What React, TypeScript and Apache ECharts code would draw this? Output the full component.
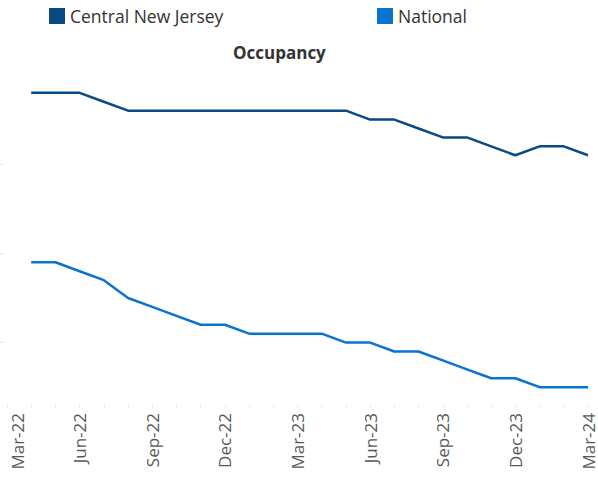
import React, { useEffect, useRef } from "react";
import * as echarts from "echarts";

const months: string[] = [
  "Mar-22", "Apr-22", "May-22", "Jun-22", "Jul-22", "Aug-22", "Sep-22", "Oct-22", "Nov-22", "Dec-22",
  "Jan-23", "Feb-23", "Mar-23", "Apr-23", "May-23", "Jun-23", "Jul-23", "Aug-23", "Sep-23", "Oct-23",
  "Nov-23", "Dec-23", "Jan-24", "Feb-24", "Mar-24",
];

// values from Apr-22 to Mar-24 (Mar-22 has no value)
const centralNJ: number[] = [
  97.8, 97.8, 97.8, 97.7, 97.6, 97.6, 97.6, 97.6, 97.6, 97.6, 97.6, 97.6, 97.6, 97.6,
  97.5, 97.5, 97.4, 97.3, 97.3, 97.2, 97.1, 97.2, 97.2, 97.1,
];
const national: number[] = [
  95.9, 95.9, 95.8, 95.7, 95.5, 95.4, 95.3, 95.2, 95.2, 95.1, 95.1, 95.1, 95.1, 95.0,
  95.0, 94.9, 94.9, 94.8, 94.7, 94.6, 94.6, 94.5, 94.5, 94.5,
];
const yTicks: number[] = [95, 96, 97];

const FONT = "'Open Sans', 'Noto Sans', sans-serif";

export default function App() {
  const ref = useRef<HTMLDivElement>(null);
  useEffect(() => {
    document.body.style.margin = "0";
    const chart = echarts.init(ref.current!, null, { renderer: "svg" });
    chart.setOption({
      animation: false,
      backgroundColor: "#ffffff",
      title: {
        text: "Occupancy",
        left: 233,
        top: 44,
        padding: 0,
        textStyle: { fontFamily: FONT, fontSize: 17, fontWeight: "bold", color: "#333333" },
      },
      legend: [
        {
          data: ["Central New Jersey"],
          left: 49,
          top: 7,
          padding: 0,
          icon: "rect",
          itemWidth: 16,
          itemHeight: 16,
          itemGap: 6,
          textStyle: { fontFamily: FONT, fontSize: 17.5, color: "#333333" },
        },
        {
          data: ["National"],
          left: 377,
          top: 7,
          padding: 0,
          icon: "rect",
          itemWidth: 16,
          itemHeight: 16,
          textStyle: { fontFamily: FONT, fontSize: 17.5, color: "#333333" },
        },
      ],
      grid: { left: 7, right: 10, top: 75, bottom: 73, containLabel: false },
      xAxis: {
        type: "category",
        data: months,
        boundaryGap: false,
        axisLine: { show: false },
        axisTick: { show: true, interval: 0, length: 3, lineStyle: { color: "#ebebeb" } },
        axisLabel: {
          interval: 2,
          rotate: 90,
          margin: 8,
          fontFamily: FONT,
          fontSize: 17,
          color: "#595959",
          formatter: (v: string, i: number) => (i === 0 ? "{first|" + v + "}" : v),
          rich: {
            first: { fontFamily: FONT, fontSize: 17, color: "#595959", padding: [20, 0, 0, 0] },
          },
        },
        splitLine: { show: false },
      },
      yAxis: {
        type: "value",
        min: 94.3,
        max: 98.0,
        offset: 4,
        axisLine: { show: false },
        axisLabel: { show: false },
        axisTick: { show: true, length: 3, customValues: yTicks, lineStyle: { color: "#e6e6e6" } },
        splitLine: { show: false },
      },
      series: [
        {
          name: "Central New Jersey",
          type: "line",
          data: [null, ...centralNJ],
          symbol: "none",
          connectNulls: false,
          itemStyle: { color: "#094A84" },
          lineStyle: { color: "#094A84", width: 2.5 },
        },
        {
          name: "National",
          type: "line",
          data: [null, ...national],
          symbol: "none",
          itemStyle: { color: "#0A72CF" },
          lineStyle: { color: "#0A72CF", width: 2.5 },
        },
      ],
    });
    return () => chart.dispose();
  }, []);
  return <div ref={ref} style={{ width: 598, height: 478 }} />;
}
